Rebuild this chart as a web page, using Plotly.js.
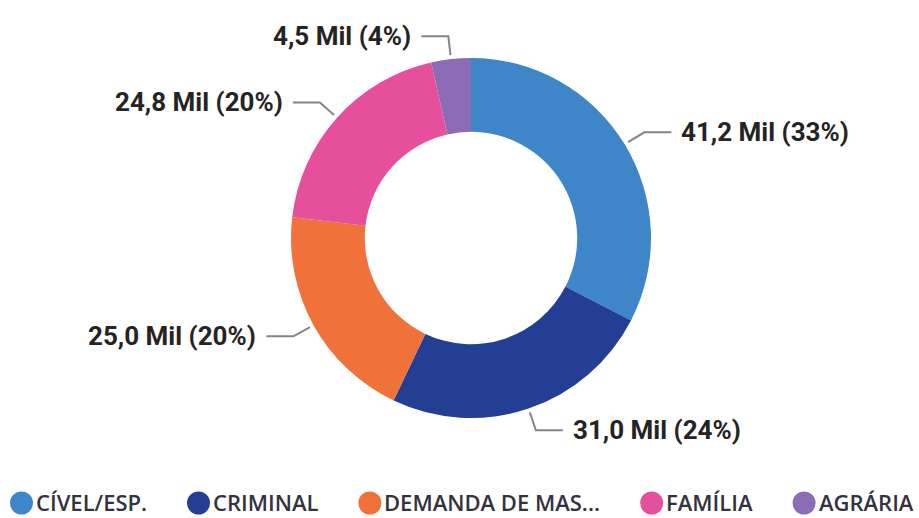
<!DOCTYPE html>
<html>
<head>
<meta charset="utf-8">
<script src="https://cdn.plot.ly/plotly-3.0.1.min.js"></script>
<style>html,body{margin:0;padding:0;background:#fff;}#chart{width:919px;height:518px;}</style>
</head>
<body>
<div id="chart"></div>
<script>
// ---- data (values in thousands) ----
const categories = ["CÍVEL/ESP.", "CRIMINAL", "DEMANDA DE MAS...", "FAMÍLIA", "AGRÁRIA"];
const values = [41.2, 31.0, 25.0, 24.8, 4.5];
const percents = [33, 24, 20, 20, 4];
const colors = ["#3F86C9", "#233E92", "#F07139", "#E64F9B", "#8C6DB5"];

// ---- geometry ----
const W = 919, H = 518;
const cx = 471, cy = 238, R = 180;
const px2x = p => p / W;
const px2y = p => 1 - p / H;

const total = values.reduce((a, b) => a + b, 0);
const fmt = v => v.toFixed(1).replace(".", ",") + " Mil";

const shapes = [];
const annotations = [];

// data labels with leader lines, placed from each slice's mid-angle
let cum = 0;
values.forEach((v, i) => {
  const mid = (cum + v / 2) / total * 2 * Math.PI;
  cum += v;
  const s = Math.sin(mid), c = -Math.cos(mid);
  const r1 = R + 4, r2 = R + 23;
  const x1 = cx + r1 * s, y1 = cy + r1 * c;
  const x2 = cx + r2 * s, y2 = cy + r2 * c;
  const dir = s >= 0 ? 1 : -1;
  const x3 = x2 + dir * 27;
  shapes.push({
    type: "path", xref: "paper", yref: "paper",
    path: `M ${px2x(x1)} ${px2y(y1)} L ${px2x(x2)} ${px2y(y2)} L ${px2x(x3)} ${px2y(y2)}`,
    line: {color: "#858585", width: 2}
  });
  annotations.push({
    xref: "paper", yref: "paper",
    x: px2x(x3 + dir * 8), y: px2y(y2),
    xanchor: dir > 0 ? "left" : "right", yanchor: "middle",
    showarrow: false,
    text: `${fmt(v)} (${percents[i]}%)`,
    font: {family: "Roboto, 'DejaVu Sans', sans-serif", size: 26, weight: 700, color: "#252423"}
  });
});

// legend: coloured dots + names, laid out from measured text widths
const legFont = {family: "'Open Sans', Roboto, sans-serif", size: 22, weight: 600, color: "#333340"};
const ctx = document.createElement("canvas").getContext("2d");
ctx.font = `600 ${legFont.size}px 'Open Sans'`;
const dot = 23, dotGap = 3, legLeft = 10, legRight = 915, legY = 502;
const tw = categories.map(t => ctx.measureText(t).width + 2);
const used = tw.reduce((a, b) => a + b, 0) + categories.length * (dot + dotGap);
const gap = Math.max(8, (legRight - legLeft - used) / (categories.length - 1));
let lx = legLeft;
categories.forEach((name, i) => {
  shapes.push({
    type: "circle", xref: "paper", yref: "paper",
    x0: px2x(lx), x1: px2x(lx + dot),
    y0: px2y(legY + 1 + dot / 2), y1: px2y(legY + 1 - dot / 2),
    fillcolor: colors[i], line: {width: 0}
  });
  annotations.push({
    xref: "paper", yref: "paper",
    x: px2x(lx + dot + dotGap - 1), y: px2y(legY),
    xanchor: "left", yanchor: "middle", showarrow: false, borderpad: 0,
    text: name, font: legFont
  });
  lx += dot + dotGap + tw[i] + gap;
});

const pie = {
  type: "pie",
  labels: categories,
  values: values,
  sort: false,
  direction: "clockwise",
  rotation: 0,
  hole: 0.59,
  textinfo: "none",
  hoverinfo: "label+value+percent",
  marker: {colors: colors, line: {width: 0}},
  showlegend: false,
  domain: {x: [px2x(cx - R), px2x(cx + R)], y: [px2y(cy + R), px2y(cy - R)]}
};

const layout = {
  width: W, height: H,
  margin: {l: 0, r: 0, t: 0, b: 0, pad: 0},
  paper_bgcolor: "#ffffff",
  showlegend: false,
  shapes: shapes,
  annotations: annotations
};

Plotly.newPlot("chart", [pie], layout, {displayModeBar: false, staticPlot: true});
</script>
</body>
</html>
